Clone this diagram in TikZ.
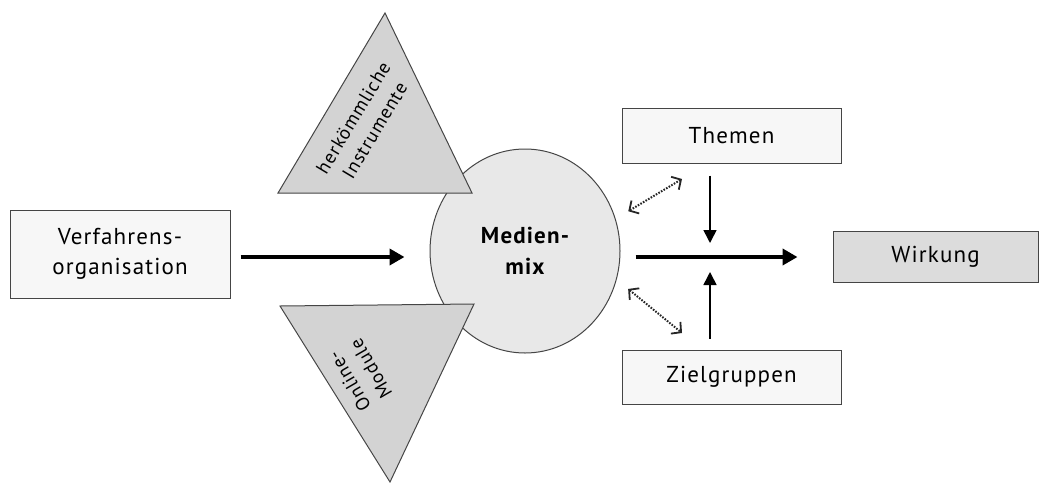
\documentclass[tikz,border=0pt]{standalone}
\usepackage{fontspec}
\setmainfont{PT Sans}[LetterSpace=5]
\usetikzlibrary{arrows.meta,shapes.geometric,calc}
\definecolor{edge}{HTML}{454545}
\definecolor{paleBox}{HTML}{F7F7F7}
\definecolor{circFill}{HTML}{E8E8E8}
\definecolor{triFill}{HTML}{D3D3D3}
\definecolor{effFill}{HTML}{DCDCDC}
\begin{document}
\begin{tikzpicture}[x=1pt,y=-1pt,
  font=\fontsize{23}{30}\selectfont,
  box/.style={draw=edge,line width=1pt,rectangle,inner sep=0pt,align=center},
  tri/.style={draw=edge,line width=1pt,fill=triFill},
  bigarrow/.style={line width=4.5pt,-{Triangle[length=15pt,width=16pt]}},
  smallarrow/.style={line width=1.6pt,-{Triangle[length=13pt,width=13pt]}},
  dotarrow/.style={line width=2pt,dash pattern=on 1.6pt off 1.4pt,color=black!85,
    {Straight Barb[length=7pt,width=15pt,line width=1.8pt,sep]}-{Straight Barb[length=7pt,width=15pt,line width=1.8pt]}},
  tritext/.style={align=center,inner sep=0pt,font=\fontsize{19}{25}\selectfont}]
\useasboundingbox (0,0) rectangle (1048,482);

% boxes
\node[box,fill=paleBox,minimum width=220pt,minimum height=88pt] (verf) at (120,254) {Verfahrens-\\organisation};
\node[box,fill=paleBox,minimum width=219pt,minimum height=55pt] (themen) at (731.5,135.5) {Themen};
\node[box,fill=paleBox,minimum width=219pt,minimum height=54pt] (ziel) at (731.5,377) {Zielgruppen};
\node[box,fill=effFill,minimum width=205pt,minimum height=51pt] (wirk) at (935.5,256.5) {Wirkung};

% media mix circle
\node[ellipse,draw=edge,line width=1pt,fill=circFill,minimum width=190pt,minimum height=204pt,inner sep=0pt,align=center,font=\fontsize{23}{31}\selectfont\bfseries] (mix) at (525,251) {Medien-\\mix};

% the two instrument triangles
\draw[tri] (278,193) -- (385,13) -- (472,193) -- cycle;
\draw[tri] (280,306) -- (474,304) -- (390,482) -- cycle;
\node[tritext,rotate=59] (herk) at (364,124) {herkömmliche\\Instrumente};
\node[tritext,rotate=120] (onl) at (360,375) {Online-\\Module};

% main flow
\draw[bigarrow,shorten <=10pt,shorten >=25pt] (verf.east |- 0,257) -- (mix.west |- 0,257);
\draw[bigarrow,shorten <=15pt,shorten >=35pt] (mix.east |- 0,257) -- (wirk.west |- 0,257);

% influences on the effect
\coordinate (tEnd) at (710,243);
\coordinate (zEnd) at (710,272);
\draw[smallarrow,shorten <=12pt] (themen.south -| tEnd) -- (tEnd);
\draw[smallarrow,shorten <=11pt] (ziel.north -| zEnd) -- (zEnd);

% interactions
\coordinate (d1a) at (627,212);
\coordinate (d1b) at (682,179);
\coordinate (d2a) at (627,288);
\coordinate (d2b) at (682,333);
\draw[dotarrow] (d1a) -- (d1b);
\draw[dotarrow] (d2a) -- (d2b);
\end{tikzpicture}
\end{document}
